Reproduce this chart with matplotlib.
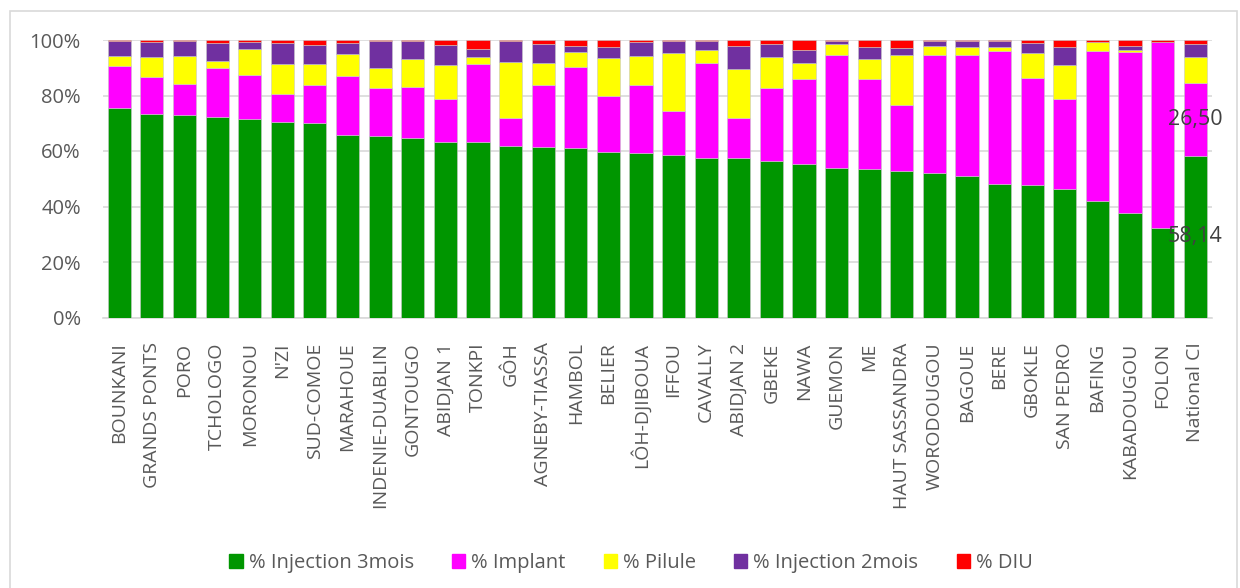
import matplotlib
matplotlib.use("Agg")
import matplotlib.pyplot as plt
import matplotlib.font_manager as fm
import numpy as np
from matplotlib.patches import Rectangle
from matplotlib.ticker import FuncFormatter

# keep only the regular-width Open Sans faces so the family resolves consistently
fm.fontManager.ttflist = [
    f for f in fm.fontManager.ttflist
    if not (f.name.startswith("Open Sans") and
            ("ondensed" in f.fname or "ondensed" in f.name or
             str(f.stretch) not in ("normal", "500", "400")))
]
try:
    fm.fontManager._findfont_cached.cache_clear()
except Exception:
    pass

plt.rcParams['font.family'] = ['Open Sans', 'DejaVu Sans']

districts = ["BOUNKANI", "GRANDS PONTS", "PORO", "TCHOLOGO", "MORONOU", "N'ZI",
             "SUD-COMOE", "MARAHOUE", "INDENIE-DUABLIN", "GONTOUGO", "ABIDJAN 1",
             "TONKPI", "GÔH", "AGNEBY-TIASSA", "HAMBOL", "BELIER", "LÔH-DJIBOUA",
             "IFFOU", "CAVALLY", "ABIDJAN 2", "GBEKE", "NAWA", "GUEMON", "ME",
             "HAUT SASSANDRA", "WORODOUGOU", "BAGOUE", "BERE", "GBOKLE",
             "SAN PEDRO", "BAFING", "KABADOUGOU", "FOLON", "National CI"]

injection_3mois = [75.6, 73.4, 72.9, 72.4, 71.4, 70.6, 70.1, 65.9, 65.3, 64.8, 63.1,
                   63.1, 61.9, 61.3, 61.2, 59.7, 59.2, 58.4, 57.6, 57.5, 56.3, 55.2,
                   53.8, 53.5, 52.7, 52.2, 51.1, 48.2, 47.9, 46.2, 42.1, 37.7, 32.4, 58.14]
implant = [15.1, 13.2, 11.4, 17.6, 16.0, 10.0, 13.8, 21.0, 17.4, 18.1, 15.6,
           28.4, 10.1, 22.5, 29.1, 20.2, 24.6, 16.0, 34.0, 14.5, 26.5, 30.6,
           40.7, 32.4, 23.9, 42.3, 43.6, 47.9, 38.5, 32.6, 53.9, 58.0, 66.8, 26.50]
pilule = [3.6, 7.4, 9.9, 2.5, 9.2, 10.9, 7.6, 7.9, 7.3, 10.1, 12.4,
          2.4, 20.2, 7.9, 5.4, 13.7, 10.5, 21.0, 4.7, 17.7, 11.0, 5.8,
          4.1, 7.1, 17.9, 3.3, 2.7, 1.3, 9.0, 12.2, 3.4, 0.7, 0.1, 9.2]
injection_2mois = [5.5, 5.3, 5.3, 6.3, 2.8, 7.3, 6.8, 4.0, 9.6, 6.6, 7.2,
                   3.0, 7.4, 7.0, 2.2, 4.0, 5.0, 4.2, 3.3, 8.1, 4.8, 4.8,
                   1.0, 4.5, 2.5, 1.8, 2.2, 2.2, 3.5, 6.6, 0.1, 1.4, 0.1, 4.6]
diu = [0.2, 0.7, 0.5, 1.2, 0.6, 1.2, 1.7, 1.2, 0.4, 0.4, 1.7,
       3.1, 0.4, 1.3, 2.1, 2.4, 0.7, 0.4, 0.4, 2.2, 1.4, 3.6,
       0.4, 2.5, 3.0, 0.4, 0.4, 0.4, 1.1, 2.4, 0.6, 2.2, 0.7, 1.56]

series = [("% Injection 3mois", injection_3mois, "#009600"),
          ("% Implant", implant, "#FF00FF"),
          ("% Pilule", pilule, "#FFFF00"),
          ("% Injection 2mois", injection_2mois, "#7030A0"),
          ("% DIU", diu, "#FF0000")]

label_values = [("58,14", 33, 0), ("26,50", 33, 1)]

W, H = 1240, 588
fig = plt.figure(figsize=(W / 100, H / 100), dpi=100)
fig.patches.append(Rectangle((10 / W, -0.01), 1227 / W, 1 - 11 / H + 0.01,
                             transform=fig.transFigure, fill=False,
                             edgecolor="#d9d9d9", linewidth=1.2))

ax = fig.add_axes([103 / W, 1 - 317.5 / H, 1108.5 / W, 277.5 / H])

arr = np.array([s[1] for s in series], dtype=float)
tot = arr.sum(axis=0)
arr = arr / tot * 100.0

x = np.arange(len(districts))
bottom = np.zeros(len(districts))
for (name, _, color), vals in zip(series, arr):
    ax.bar(x, vals, 0.71, bottom=bottom, color=color, label=name,
           edgecolor="#c8c8c8", linewidth=0.4, zorder=3)
    bottom += vals

cum = np.vstack([np.zeros(len(districts)), np.cumsum(arr, axis=0)])
for text, idx, si in label_values:
    ymid = (cum[si, idx] + cum[si + 1, idx]) / 2
    ax.text(idx, ymid, text, ha="center", va="center", fontsize=15.5,
            color="#404040", zorder=5)

ax.set_xlim(-0.5, len(districts) - 0.5)
ax.set_ylim(0, 100)
ax.set_yticks([0, 20, 40, 60, 80, 100])
ax.yaxis.set_major_formatter(FuncFormatter(lambda v, p: f"{int(v)}%"))
ax.grid(axis="y", color="#d9d9d9", linewidth=1.2, zorder=0)
ax.set_axisbelow(True)
for s in ["top", "right", "left"]:
    ax.spines[s].set_visible(False)
ax.spines["bottom"].set_color("#d9d9d9")
ax.spines["bottom"].set_linewidth(1.2)
ax.tick_params(axis="both", length=0, colors="#595959")
ax.tick_params(axis="y", pad=16, labelsize=14.5)
ax.tick_params(axis="x", pad=18)
ax.set_xticks(x)
ax.set_xticklabels(districts, rotation=90, fontsize=14, color="#595959")

handles = [Rectangle((0, 0), 1, 1, color=c) for _, _, c in series]
leg = fig.legend(handles, [n for n, _, _ in series], loc="center",
                 bbox_to_anchor=(631 / W, 1 - 563 / H), ncol=5, frameon=False,
                 fontsize=14.5, handlelength=0.65, handleheight=0.65,
                 handletextpad=0.3, columnspacing=1.9)
for t in leg.get_texts():
    t.set_color("#595959")

fig.savefig("out.png", dpi=100)
